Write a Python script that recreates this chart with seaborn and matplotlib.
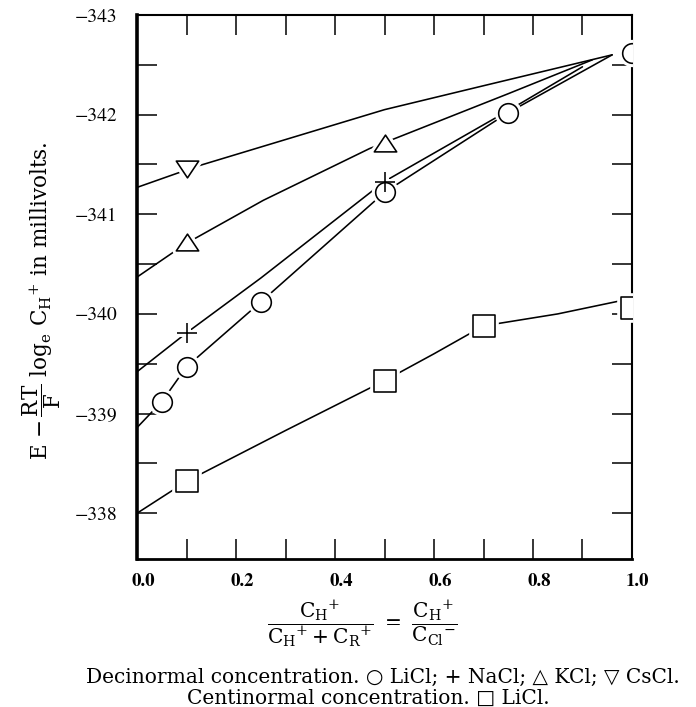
import matplotlib
matplotlib.use("Agg")
import matplotlib.pyplot as plt
import matplotlib.transforms as mtransforms
from matplotlib.path import Path
import seaborn as sns

# ---- data ----
# measured points (x = C_H+/C_Cl-, y = E - RT/F log_e C_H+ in mV)
licl_x = [0.05, 0.1, 0.25, 0.5, 0.75, 1.0]
licl_y = [-339.12, -339.47, -340.12, -341.22, -342.02, -342.62]
nacl_x = [0.1, 0.5]
nacl_y = [-339.81, -341.32]
kcl_x = [0.1, 0.5]
kcl_y = [-340.72, -341.72]
cscl_x = [0.1]
cscl_y = [-341.45]
licl_c_x = [0.1, 0.5, 0.7, 1.0]
licl_c_y = [-338.32, -339.33, -339.88, -340.06]

# hand-drawn curves
cscl_curve_x = [0.0, 0.12, 0.3, 0.5, 0.7, 0.96]
cscl_curve_y = [-341.27, -341.48, -341.75, -342.05, -342.29, -342.60]
kcl_curve_x = [0.0, 0.1, 0.255, 0.47, 0.75, 0.92]
kcl_curve_y = [-340.37, -340.71, -341.14, -341.66, -342.21, -342.55]
nacl_curve_x = [0.0, 0.1, 0.25, 0.5, 0.75, 0.9]
nacl_curve_y = [-339.42, -339.81, -340.36, -341.33, -342.04, -342.48]
licl_curve_x = [0.0, 0.05, 0.1, 0.25, 0.5, 0.75, 0.96]
licl_curve_y = [-338.86, -339.12, -339.47, -340.12, -341.22, -342.02, -342.60]
licl_c_curve_x = [0.0, 0.1, 0.3, 0.5, 0.6, 0.7, 0.85, 0.975]
licl_c_curve_y = [-338.0, -338.32, -338.83, -339.33, -339.60, -339.88, -340.0, -340.13]

x_major = [0.0, 0.2, 0.4, 0.6, 0.8, 1.0]
x_major_labels = ["0.0", "0.2", "0.4", "0.6", "0.8", "1.0"]
x_minor = [0.1, 0.3, 0.5, 0.7, 0.9]
y_major = [-343, -342, -341, -340, -339, -338]
y_major_labels = ["\u2212343", "\u2212342", "\u2212341", "\u2212340", "\u2212339", "\u2212338"]
y_minor = [-342.5, -341.5, -340.5, -339.5, -338.5]

# ---- style ----
sns.set_style("ticks")
plt.rcParams["font.family"] = ["DejaVu Serif", "DejaVu Sans"]
plt.rcParams["mathtext.fontset"] = "dejavuserif"
plt.rcParams["text.color"] = "black"
plt.rcParams["axes.labelcolor"] = "black"
plt.rcParams["xtick.color"] = "black"
plt.rcParams["ytick.color"] = "black"

fig = plt.figure(figsize=(6.96, 7.07), dpi=100)
ax = fig.add_axes([0.197, 0.2093, 0.711, 0.7695])

lw = 1.15
for cx, cy in [(cscl_curve_x, cscl_curve_y), (kcl_curve_x, kcl_curve_y),
               (nacl_curve_x, nacl_curve_y), (licl_curve_x, licl_curve_y),
               (licl_c_curve_x, licl_c_curve_y)]:
    sns.lineplot(x=cx, y=cy, color="black", linewidth=lw, sort=False,
                 estimator=None, ax=ax, zorder=2)

tri_up = Path([(-1, -0.75), (1, -0.75), (0, 0.75), (-1, -0.75)],
              [Path.MOVETO, Path.LINETO, Path.LINETO, Path.CLOSEPOLY])
tri_down = Path([(-1, 0.75), (1, 0.75), (0, -0.75), (-1, 0.75)],
                [Path.MOVETO, Path.LINETO, Path.LINETO, Path.CLOSEPOLY])

series = [
    (licl_x, licl_y, "o", 200),
    (licl_c_x, licl_c_y, "s", 245),
    (kcl_x, kcl_y, tri_up, 260),
    (cscl_x, cscl_y, tri_down, 260),
]
# white halos to open gaps in the curves around the symbols
for xs, ys, m, s in series:
    sns.scatterplot(x=xs, y=ys, marker=m, s=s, color="white", edgecolor="white",
                    linewidth=5.5, ax=ax, zorder=3, legend=False)
sns.scatterplot(x=nacl_x, y=nacl_y, marker="+", s=210, color="white",
                linewidth=5.0, ax=ax, zorder=3, legend=False)
for xs, ys, m, s in series:
    sns.scatterplot(x=xs, y=ys, marker=m, s=s, color="white", edgecolor="black",
                    linewidth=1.15, ax=ax, zorder=4, legend=False)
sns.scatterplot(x=nacl_x, y=nacl_y, marker="+", s=210, color="black",
                linewidth=1.15, ax=ax, zorder=5, legend=False)

ax.set_xlim(0, 1.0)
ax.set_ylim(-337.54, -343)
ax.set_xlabel("")
ax.set_ylabel("")

ax.spines["left"].set_linewidth(2.6)
ax.spines["bottom"].set_linewidth(2.0)
ax.spines["top"].set_linewidth(1.5)
ax.spines["right"].set_linewidth(1.5)
for sp in ax.spines.values():
    sp.set_color("black")

ax.tick_params(which="both", direction="in", length=14.5, width=1.1,
               top=True, right=True, colors="black")
ax.tick_params(axis="y", which="both", pad=14)
ax.tick_params(axis="x", which="both", pad=10)

ax.set_xticks(x_major)
ax.set_xticks(x_minor, minor=True)
ax.set_xticklabels(x_major_labels, fontdict={"family": "STIXGeneral", "size": 13.5,
                                             "weight": "bold"})
ax.set_yticks(y_major)
ax.set_yticks(y_minor, minor=True)
ax.set_yticklabels(y_major_labels, fontdict={"family": "STIXGeneral", "size": 14})

offset = mtransforms.ScaledTranslation(6 / 100, 0, fig.dpi_scale_trans)
for lab in ax.get_xticklabels():
    lab.set_transform(lab.get_transform() + offset)

fig.text(42 / 696, 1 - 301 / 707,
         r"E $-\,\dfrac{\mathrm{RT}}{\mathrm{F}}$ log$_{\mathrm{e}}$ C$_{\mathrm{H}}$$^{+}$ in millivolts.",
         rotation=90, ha="center", va="center", fontsize=15.5, color="black")
fig.text(362 / 696, 1 - 624 / 707,
         r"$\dfrac{\mathrm{C}_{\mathrm{H}}{}^{+}}{\mathrm{C}_{\mathrm{H}}{}^{+} + \mathrm{C}_{\mathrm{R}}{}^{+}}"
         r"\ =\ \dfrac{\mathrm{C}_{\mathrm{H}}{}^{+}}{\mathrm{C}_{\mathrm{Cl}}{}^{-}}$",
         ha="center", va="center", fontsize=14.5, color="black")
fig.text(383 / 696, 1 - 677 / 707,
         "Decinormal concentration. \u25CB LiCl; + NaCl; \u25B3 KCl; \u25BD CsCl.",
         ha="center", va="center", fontsize=14.5, color="black")
fig.text(368 / 696, 1 - 698 / 707,
         "Centinormal concentration. \u25A1 LiCl.",
         ha="center", va="center", fontsize=14.5, color="black")

fig.savefig("out.png", dpi=100)
